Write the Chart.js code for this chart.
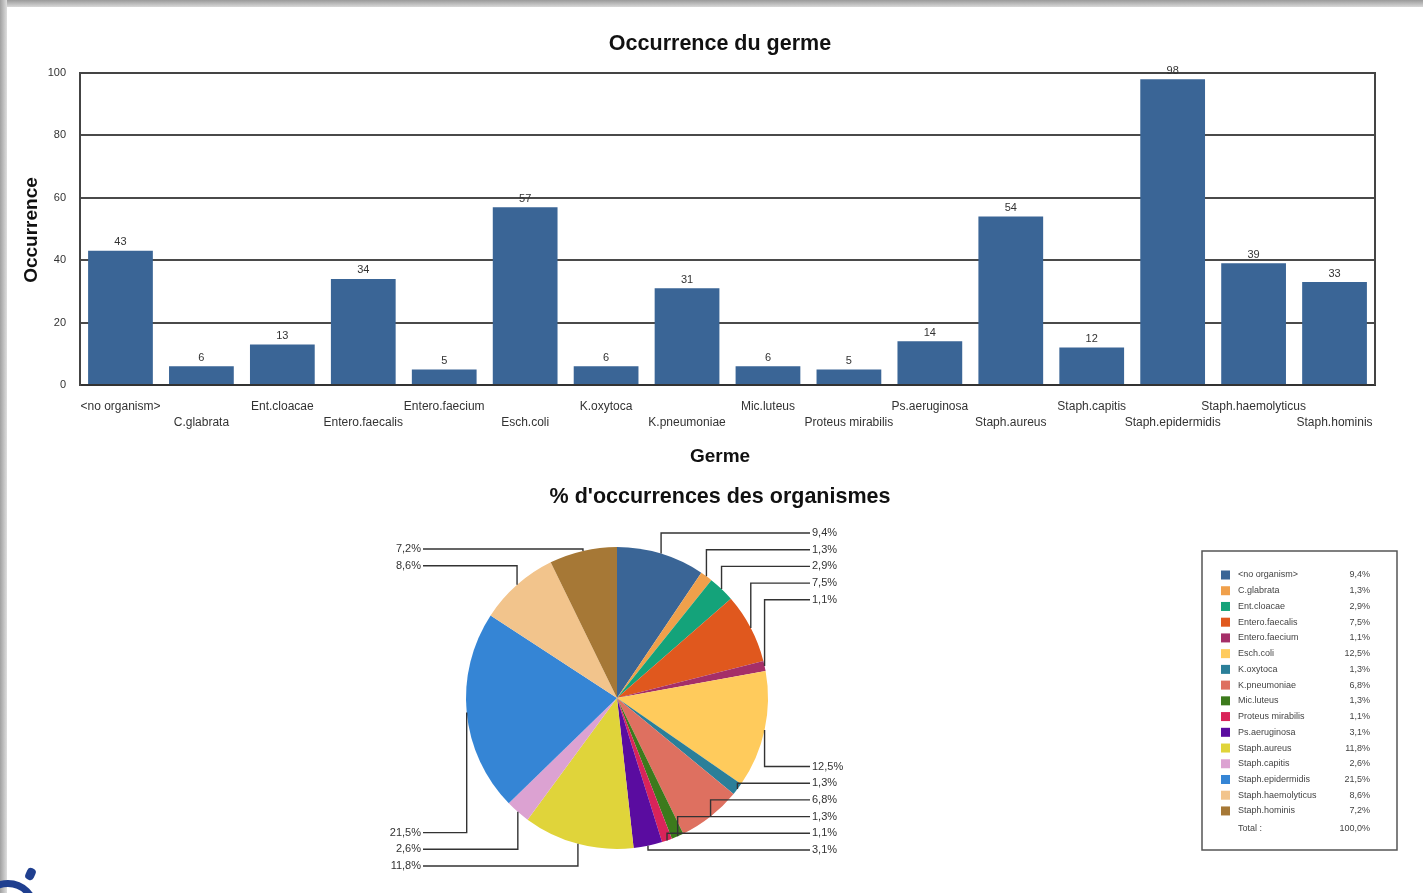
<!DOCTYPE html>
<html>
<head>
<meta charset="utf-8">
<script src="https://cdn.jsdelivr.net/npm/chart.js@4/dist/chart.umd.min.js"></script>
<style>
  html, body { margin: 0; padding: 0; background: #fff; }
  body { width: 1423px; height: 893px; position: relative; overflow: hidden; font-family: "Liberation Sans", Arial, sans-serif; }
  #topband { position: absolute; left: 0; top: 0; width: 1423px; height: 7px; background: linear-gradient(to bottom, #9a9a9a, #d8d8d8); }
  #leftband { position: absolute; left: 0; top: 0; width: 7px; height: 893px; background: linear-gradient(to right, #a0a0a0, #dedede); }
  #barWrap { position: absolute; left: 0; top: 0; width: 1423px; height: 470px; }
  #pieWrap { position: absolute; left: 0; top: 470px; width: 1423px; height: 423px; }
  #logo { position: absolute; left: -22px; top: 880px; width: 60px; height: 60px; border: 7px solid #1f3f8f; border-radius: 50%; box-sizing: border-box; }
  #logo2 { position: absolute; left: 26px; top: 868px; width: 9px; height: 12px; background: #1f3f8f; border-radius: 4px; transform: rotate(25deg); }
</style>
</head>
<body>
<div id="barWrap"><canvas id="bar"></canvas></div>
<div id="pieWrap"><canvas id="pie"></canvas></div>
<div id="topband"></div>
<div id="leftband"></div>
<div id="logo"></div>
<div id="logo2"></div>
<script>
// ---- data ----
const germes = ['<no organism>', 'C.glabrata', 'Ent.cloacae', 'Entero.faecalis', 'Entero.faecium', 'Esch.coli', 'K.oxytoca', 'K.pneumoniae', 'Mic.luteus', 'Proteus mirabilis', 'Ps.aeruginosa', 'Staph.aureus', 'Staph.capitis', 'Staph.epidermidis', 'Staph.haemolyticus', 'Staph.hominis'];
const occurrences = [43, 6, 13, 34, 5, 57, 6, 31, 6, 5, 14, 54, 12, 98, 39, 33];
const yTicks = [0, 20, 40, 60, 80, 100];
const sliceColors = ['#3a6596', '#f0a04b', '#14a37a', '#e0581e', '#a52f68', '#ffcb5c', '#2b7f99', '#de7060', '#3c7a1c', '#d9245a', '#5a0ca0', '#e0d43a', '#dca2d2', '#3585d5', '#f2c48c', '#a67836'];
const barColor = '#3a6596';

const FONT = "'Liberation Sans', Arial, sans-serif";
const total = occurrences.reduce((a, b) => a + b, 0);
const pct = v => (v / total * 100).toFixed(1).replace('.', ',') + '%';

// ---- bar chart ----
const barPlugin = {
  id: 'barDeco',
  afterDraw(chart) {
    const ctx = chart.ctx, ca = chart.chartArea;
    ctx.save();
    ctx.strokeStyle = '#444';
    ctx.lineWidth = 2;
    ctx.beginPath();
    ctx.moveTo(ca.left, ca.top);
    ctx.lineTo(ca.right, ca.top);
    ctx.lineTo(ca.right, ca.bottom);
    ctx.stroke();
    const meta = chart.getDatasetMeta(0);
    ctx.fillStyle = '#333';
    ctx.font = '11px ' + FONT;
    ctx.textAlign = 'center';
    ctx.textBaseline = 'bottom';
    meta.data.forEach((bar, i) => {
      ctx.fillText(String(occurrences[i]), bar.x, bar.y - 3);
    });
    ctx.fillStyle = '#111';
    ctx.textBaseline = 'middle';
    ctx.font = 'bold 21.5px ' + FONT;
    ctx.fillText('Occurrence du germe', 720, 44);
    ctx.font = 'bold 19px ' + FONT;
    ctx.fillText('Germe', 720, 457);
    ctx.translate(32, 230);
    ctx.rotate(-Math.PI / 2);
    ctx.fillText('Occurrence', 0, 0);
    ctx.restore();
  }
};

new Chart(document.getElementById('bar'), {
  type: 'bar',
  data: {
    labels: germes,
    datasets: [{ data: occurrences, backgroundColor: barColor, borderWidth: 0, barPercentage: 0.8, categoryPercentage: 1.0 }]
  },
  options: {
    responsive: true,
    maintainAspectRatio: false,
    animation: false,
    layout: { padding: { left: 16, right: 48, top: 73, bottom: 0 } },
    plugins: { legend: { display: false }, tooltip: { enabled: false }, title: { display: false } },
    scales: {
      x: {
        grid: { display: false, drawTicks: false },
        border: { display: true, color: '#333', width: 2 },
        ticks: {
          autoSkip: false, maxRotation: 0, minRotation: 0, padding: 14,
          color: '#333', font: { family: FONT, size: 12, lineHeight: 1.34 },
          callback: function (v, i) { const l = germes[i]; return i % 2 === 0 ? [l, ''] : ['', l]; }
        },
        afterFit: s => { s.height = 85; }
      },
      y: {
        min: 0, max: 100,
        afterBuildTicks: s => { s.ticks = yTicks.map(v => ({ value: v })); },
        grid: { color: '#4a4a4a', lineWidth: 2, drawTicks: false },
        border: { display: true, color: '#444', width: 2 },
        ticks: { padding: 14, color: '#333', font: { family: FONT, size: 11 } },
        afterFit: s => { s.width = 64; }
      }
    }
  },
  plugins: [barPlugin]
});

// ---- pie chart ----
const piePlugin = {
  id: 'pieDeco',
  afterDraw(chart) {
    const ctx = chart.ctx;
    const meta = chart.getDatasetMeta(0);
    const arcs = meta.data;
    const cx = arcs[0].x, cy = arcs[0].y, r = arcs[0].outerRadius;
    const step = 16.7;
    ctx.save();
    ctx.fillStyle = '#111';
    ctx.font = 'bold 21.5px ' + FONT;
    ctx.textAlign = 'center';
    ctx.textBaseline = 'middle';
    ctx.fillText("% d'occurrences des organismes", 720, 27);

    const items = arcs.map((a, i) => {
      const mid = (a.startAngle + a.endAngle) / 2;
      return { i, ex: cx + r * Math.cos(mid), ey: cy + r * Math.sin(mid), right: Math.cos(mid) > 0, upper: Math.sin(mid) < 0 };
    });
    const groups = [
      { f: it => it.right && it.upper, start: cy - r - 14, fromTop: true },
      { f: it => it.right && !it.upper, start: cy + r + 1, fromTop: false },
      { f: it => !it.right && it.upper, start: cy - r + 2, fromTop: true },
      { f: it => !it.right && !it.upper, start: cy + r + 17, fromTop: false }
    ];
    groups.forEach(g => {
      const list = items.filter(g.f).sort((a, b) => a.ey - b.ey);
      const n = list.length;
      list.forEach((it, k) => {
        it.ly = g.fromTop ? g.start + k * step : g.start - (n - 1 - k) * step;
      });
    });
    ctx.strokeStyle = '#333';
    ctx.lineWidth = 1.4;
    ctx.font = '11px ' + FONT;
    ctx.fillStyle = '#333';
    items.forEach(it => {
      const endX = it.right ? cx + r + 42 : cx - r - 43;
      ctx.beginPath();
      ctx.moveTo(it.ex, it.ey);
      ctx.lineTo(it.ex, it.ly);
      ctx.lineTo(endX, it.ly);
      ctx.stroke();
      ctx.textAlign = it.right ? 'left' : 'right';
      ctx.fillText(pct(occurrences[it.i]), it.right ? endX + 2 : endX - 2, it.ly);
    });

    const bx = 1202, by = 81, bw = 195, bh = 299;
    ctx.strokeStyle = '#555';
    ctx.lineWidth = 1.5;
    ctx.strokeRect(bx, by, bw, bh);
    ctx.font = '9px ' + FONT;
    ctx.textBaseline = 'middle';
    germes.forEach((g, i) => {
      const y = 105 + i * 15.73;
      ctx.fillStyle = sliceColors[i];
      ctx.fillRect(1221, y - 4.5, 9, 9);
      ctx.fillStyle = '#444';
      ctx.textAlign = 'left';
      ctx.fillText(g, 1238, y);
      ctx.textAlign = 'right';
      ctx.fillText(pct(occurrences[i]), 1370, y);
    });
    const ty = 105 + germes.length * 15.73 + 2;
    ctx.textAlign = 'left';
    ctx.fillText('Total :', 1238, ty);
    ctx.textAlign = 'right';
    ctx.fillText('100,0%', 1370, ty);
    ctx.restore();
  }
};

new Chart(document.getElementById('pie'), {
  type: 'pie',
  data: {
    labels: germes,
    datasets: [{ data: occurrences, backgroundColor: sliceColors, borderWidth: 0 }]
  },
  options: {
    responsive: true,
    maintainAspectRatio: false,
    animation: false,
    layout: { padding: { left: 466, right: 655, top: 77, bottom: 44 } },
    plugins: { legend: { display: false }, tooltip: { enabled: false }, title: { display: false } }
  },
  plugins: [piePlugin]
});
</script>
</body>
</html>
